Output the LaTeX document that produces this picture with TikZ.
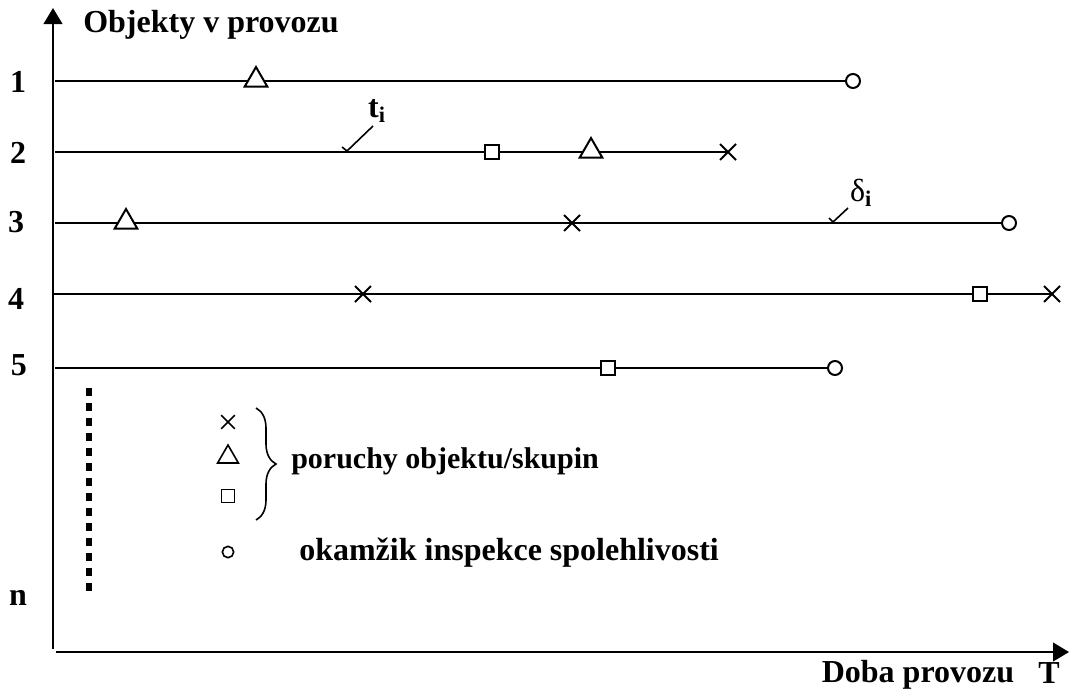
\documentclass[tikz,border=0pt]{standalone}
\usepackage{fontspec}
\setmainfont{Liberation Serif}
\usetikzlibrary{arrows.meta,shapes.geometric,shapes.misc,decorations.pathreplacing}
\begin{document}
\begin{tikzpicture}[x=0.75pt,y=-0.75pt,
  lbl/.style={font=\fontsize{24}{27}\selectfont\bfseries,inner sep=0pt},
  tl/.style={line width=1.5pt},
  ax/.style={line width=1.6pt},
  tri/.style={draw,regular polygon,regular polygon sides=3,fill=white,line width=1.5pt,minimum size=19.5pt,inner sep=0pt},
  sq/.style={draw,rectangle,fill=white,line width=1.5pt,minimum size=11pt,inner sep=0pt},
  crs/.style={cross out,draw,line width=1.5pt,minimum size=10.5pt,inner sep=0pt},
  circ/.style={draw,circle,fill=white,line width=1.5pt,minimum size=10.5pt,inner sep=0pt},
  ltri/.style={draw,regular polygon,regular polygon sides=3,line width=1.2pt,minimum size=18pt,inner sep=0pt},
  lsq/.style={draw,rectangle,line width=1.2pt,minimum size=10pt,inner sep=0pt},
  lcrs/.style={cross out,draw,line width=1.2pt,minimum size=9pt,inner sep=0pt},
  lcirc/.style={draw,circle,line width=1.2pt,minimum size=8.5pt,inner sep=0pt},
  tick/.style={line width=1.2pt}
]
\useasboundingbox (0,0) rectangle (1069,690);
% axes
\coordinate (o1) at (53,649);
\coordinate (ytop) at (53,8);
\coordinate (o2) at (56,652);
\coordinate (xend) at (1069,652);
\draw[ax,-{Triangle[length=12pt,width=14pt]}] (o1) -- (ytop);
\draw[ax,-{Triangle[length=12pt,width=14pt]}] (o2) -- (xend);
\node[lbl,anchor=west] (ytitle) at (83,25) {Objekty v provozu};
\node[lbl] (xtitle) at (918,675) {Doba provozu};
\node[lbl] (tlab) at (1049,673) {T};
% row labels
\node[lbl] (r1) at (18,82) {1};
\node[lbl] (r2) at (18,153) {2};
\node[lbl] (r3) at (16,222) {3};
\node[lbl] (r4) at (16,299) {4};
\node[lbl] (r5) at (19,365) {5};
\node[lbl] (rn) at (18,598) {n};
% row 1
\coordinate (s1) at (55,81);
\node[circ] (c1) at (853,81) {};
\draw[tl] (s1) -- (c1);
\node[tri] (t1) at (256,80) {};
% row 2
\coordinate (s2) at (55,152);
\node[crs] (x2) at (728,152) {};
\draw[tl] (s2) -- (x2.center);
\node[sq] (q2) at (492,152) {};
\node[tri] (t2) at (591,151) {};
% row 3
\coordinate (s3) at (55,223);
\node[circ] (c3) at (1009,223) {};
\draw[tl] (s3) -- (c3);
\node[tri] (t3) at (126,222) {};
\node[crs] (x3) at (572,223) {};
% row 4
\coordinate (s4) at (53,294);
\node[crs] (x4) at (1052,294) {};
\draw[tl] (s4) -- (x4.center);
\node[crs] (x4a) at (363,294) {};
\node[sq] (q4) at (980,294) {};
% row 5
\coordinate (s5) at (55,368);
\node[circ] (c5) at (835,368) {};
\draw[tl] (s5) -- (c5);
\node[sq] (q5) at (608,368) {};
% t_i marker
\coordinate (ta) at (342,147);
\coordinate (tb) at (347,151);
\coordinate (tc) at (373,126);
\draw[tick] (ta) -- (tb) -- (tc);
\node[lbl] (ti) at (377,111) {t\textsubscript{i}};
% delta_i marker
\coordinate (da) at (829,218);
\coordinate (db) at (833,222);
\coordinate (dc) at (848,208);
\draw[tick] (da) -- (db) -- (dc);
\node[lbl] (di) at (861,193) {\mdseries δ\textsubscript{\bfseries i}};
% dotted vertical
\coordinate (d1) at (89,388);
\coordinate (d2) at (89,593);
\draw[line width=5pt,dash pattern=on 6pt off 5.25pt] (d1) -- (d2);
% legend
\node[lcrs] (lx) at (228,422) {};
\node[ltri] (lt) at (228,457) {};
\node[lsq] (ls) at (228,496) {};
\node[lcirc] (lc) at (228,552) {};
\coordinate (b1) at (256,408);
\coordinate (b2) at (256,520);
\draw[line width=1.2pt,decorate,decoration={brace,amplitude=15pt}] (b1) -- (b2);
\node[lbl,anchor=west,font=\fontsize{22.5}{26}\selectfont\bfseries] (leg1) at (291,461) {poruchy objektu/skupin};
\node[lbl,anchor=west] (leg2) at (299,553) {okamžik inspekce spolehlivosti};
\end{tikzpicture}
\end{document}
